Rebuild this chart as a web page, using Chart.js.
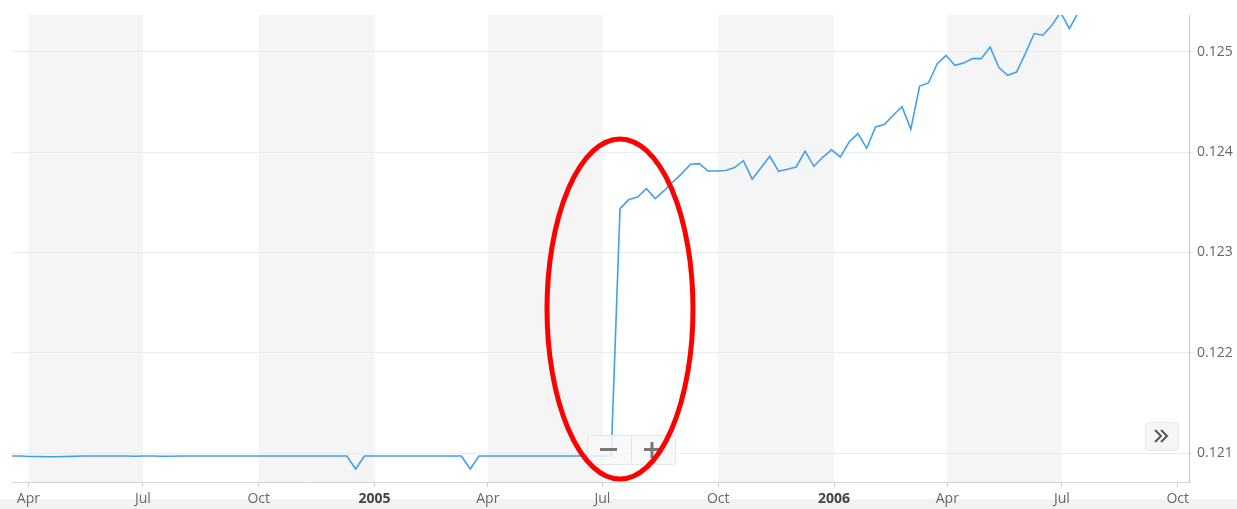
<!DOCTYPE html>
<html>
<head>
<meta charset="utf-8">
<title>Rate chart</title>
<script src="https://cdn.jsdelivr.net/npm/chart.js@4/dist/chart.umd.min.js"></script>
<style>
    html, body { margin: 0; padding: 0; background: #ffffff; }
    #wrap { position: relative; width: 1237px; height: 509px; }
</style>
</head>
<body>
<div id="wrap"><canvas id="rate-chart"></canvas></div>
<script>
"use strict";

// Weekly observations, first one on Friday 19 March 2004.
const firstWeek = Date.UTC(2004, 2, 19);
const weekMs = 7 * 24 * 3600 * 1000;

// Flat period up to early July 2005, with two small dips.
const flatValues = [
    0.12097, 0.12097, 0.120965, 0.120965, 0.120963, 0.120963, 0.120965, 0.120967, 0.12097, 0.12097,
    0.12097, 0.12097, 0.12097, 0.12097, 0.120968, 0.12097, 0.12097, 0.120968, 0.120968, 0.12097,
    0.12097, 0.12097, 0.12097, 0.12097, 0.12097, 0.12097, 0.12097, 0.12097, 0.12097, 0.12097,
    0.12097, 0.12097, 0.12097, 0.12097, 0.12097, 0.12097, 0.12097, 0.12097, 0.12097, 0.12084,
    0.12097, 0.12097, 0.12097, 0.12097, 0.12097, 0.12097, 0.12097, 0.12097, 0.12097, 0.12097,
    0.12097, 0.12097, 0.12084, 0.12097, 0.12097, 0.12097, 0.12097, 0.12097, 0.12097, 0.12097,
    0.12097, 0.12097, 0.12097, 0.12097, 0.12097, 0.12097, 0.12097, 0.12097, 0.12097
];

// After the jump in mid July 2005.
const risingValues = [
    0.123438, 0.123528, 0.123554, 0.123637, 0.123538, 0.123617, 0.123703, 0.123787, 0.12388, 0.123887,
    0.123813, 0.123813, 0.123818, 0.123847, 0.123916, 0.123732, 0.123845, 0.12396, 0.12381, 0.12383,
    0.123853, 0.124012, 0.12386, 0.12395, 0.124024, 0.123953, 0.124102, 0.124186, 0.124039, 0.124252,
    0.124276, 0.124369, 0.124455, 0.124231, 0.12466, 0.124691, 0.124884, 0.124967, 0.124867, 0.12489,
    0.124934, 0.124934, 0.12505, 0.124844, 0.124768, 0.1248, 0.124984, 0.125184, 0.125167, 0.125266,
    0.125395, 0.125233, 0.125395
];

const rateValues = flatValues.concat(risingValues);

// X axis: quarter ticks and their labels.
const tickDates = [
    Date.UTC(2004, 3, 1), Date.UTC(2004, 6, 1), Date.UTC(2004, 9, 1), Date.UTC(2005, 0, 1),
    Date.UTC(2005, 3, 1), Date.UTC(2005, 6, 1), Date.UTC(2005, 9, 1), Date.UTC(2006, 0, 1),
    Date.UTC(2006, 3, 1), Date.UTC(2006, 6, 1), Date.UTC(2006, 9, 1)
];
const tickLabels = ["Apr", "Jul", "Oct", "2005", "Apr", "Jul", "Oct", "2006", "Apr", "Jul", "Oct"];

// Y axis ticks.
const yTicks = [0.121, 0.122, 0.123, 0.124, 0.125];

const xMin = Date.UTC(2004, 2, 19);
const xMax = Date.UTC(2006, 9, 10);
const yMin = 0.120711;
const yMax = 0.125369;

const labelFont = "'Open Sans', sans-serif";

const points = rateValues.map((value, i) => ({ x: firstWeek + i * weekMs, y: value }));

function isYearTick(index) {
    return /^\d{4}$/.test(tickLabels[index] || "");
}

// Alternating grey bands (Apr-Jul and Oct-Jan) behind the grid, buttons and the red mark on top.
const decorations = {
    id: "decorations",
    beforeDraw(chart) {
        const ctx = chart.ctx;
        const area = chart.chartArea;
        const x = chart.scales.x;

        ctx.save();
        ctx.fillStyle = "#f2f2f2";
        ctx.fillRect(0, 499, chart.width, chart.height - 499);

        ctx.fillStyle = "#f5f5f5";
        for (let i = 0; i + 1 < tickDates.length; i += 2) {
            const left = x.getPixelForValue(tickDates[i]);
            const right = x.getPixelForValue(tickDates[i + 1]);
            ctx.fillRect(left, area.top, right - left, area.bottom - area.top);
        }
        ctx.restore();
    },
    afterDraw(chart) {
        const ctx = chart.ctx;
        ctx.save();

        // Zoom buttons
        ctx.fillStyle = "rgba(248, 248, 248, 0.85)";
        ctx.strokeStyle = "#e4e4e4";
        ctx.lineWidth = 1;
        ctx.beginPath();
        ctx.roundRect(587.5, 435.5, 88, 29, 3);
        ctx.fill();
        ctx.stroke();
        ctx.beginPath();
        ctx.moveTo(631.5, 437);
        ctx.lineTo(631.5, 463);
        ctx.stroke();

        ctx.fillStyle = "#777777";
        ctx.fillRect(600, 448, 17, 3);
        ctx.fillRect(644, 448, 16, 3);
        ctx.fillRect(650.5, 442, 3, 16);

        // Navigator arrow button
        ctx.fillStyle = "#f6f6f6";
        ctx.strokeStyle = "#e8e8e8";
        ctx.beginPath();
        ctx.roundRect(1145.5, 422.5, 33, 28, 3);
        ctx.fill();
        ctx.stroke();
        ctx.strokeStyle = "#555555";
        ctx.lineWidth = 2;
        ctx.beginPath();
        ctx.moveTo(1155, 430); ctx.lineTo(1161, 436); ctx.lineTo(1155, 442);
        ctx.moveTo(1161, 430); ctx.lineTo(1167, 436); ctx.lineTo(1161, 442);
        ctx.stroke();

        // Red highlight round the jump
        ctx.strokeStyle = "#ff0000";
        ctx.lineWidth = 5;
        ctx.beginPath();
        ctx.ellipse(620, 309, 73, 170, 0, 0, Math.PI * 2);
        ctx.stroke();

        ctx.restore();
    }
};

const config = {
    type: "line",
    data: {
        datasets: [{
            data: points,
            borderColor: "#42a0ee",
            borderWidth: 1.6,
            pointRadius: 0,
            tension: 0,
            fill: false
        }]
    },
    options: {
        responsive: true,
        maintainAspectRatio: false,
        animation: false,
        layout: {
            padding: { left: 12, top: 15, right: 0, bottom: 0 }
        },
        plugins: {
            legend: { display: false },
            tooltip: { enabled: false }
        },
        scales: {
            x: {
                type: "linear",
                min: xMin,
                max: xMax,
                afterBuildTicks(scale) {
                    scale.ticks = tickDates.map((value) => ({ value: value }));
                },
                afterFit(scale) {
                    scale.height = 27;
                },
                ticks: {
                    autoSkip: false,
                    maxRotation: 0,
                    padding: 4,
                    callback(value, index) {
                        return tickLabels[index];
                    },
                    font(context) {
                        return { family: labelFont, size: 14, weight: isYearTick(context.index) ? "bold" : "normal" };
                    },
                    color(context) {
                        return isYearTick(context.index) ? "#444444" : "#666666";
                    }
                },
                grid: {
                    drawOnChartArea: false,
                    drawTicks: true,
                    tickLength: 5,
                    color: "#cccccc"
                },
                border: {
                    display: true,
                    color: "#d6d6d6"
                }
            },
            y: {
                position: "right",
                min: yMin,
                max: yMax,
                afterBuildTicks(scale) {
                    scale.ticks = yTicks.map((value) => ({ value: value }));
                },
                afterFit(scale) {
                    scale.width = 48;
                },
                ticks: {
                    padding: 4,
                    color: "#666666",
                    font: { family: labelFont, size: 14 },
                    callback(value) {
                        return value.toFixed(3);
                    }
                },
                grid: {
                    color: "#ebebeb",
                    drawTicks: true,
                    tickLength: 4
                },
                border: {
                    display: true,
                    color: "#c4c4c4"
                }
            }
        }
    },
    plugins: [decorations]
};

new Chart(document.getElementById("rate-chart"), config);
</script>
</body>
</html>
